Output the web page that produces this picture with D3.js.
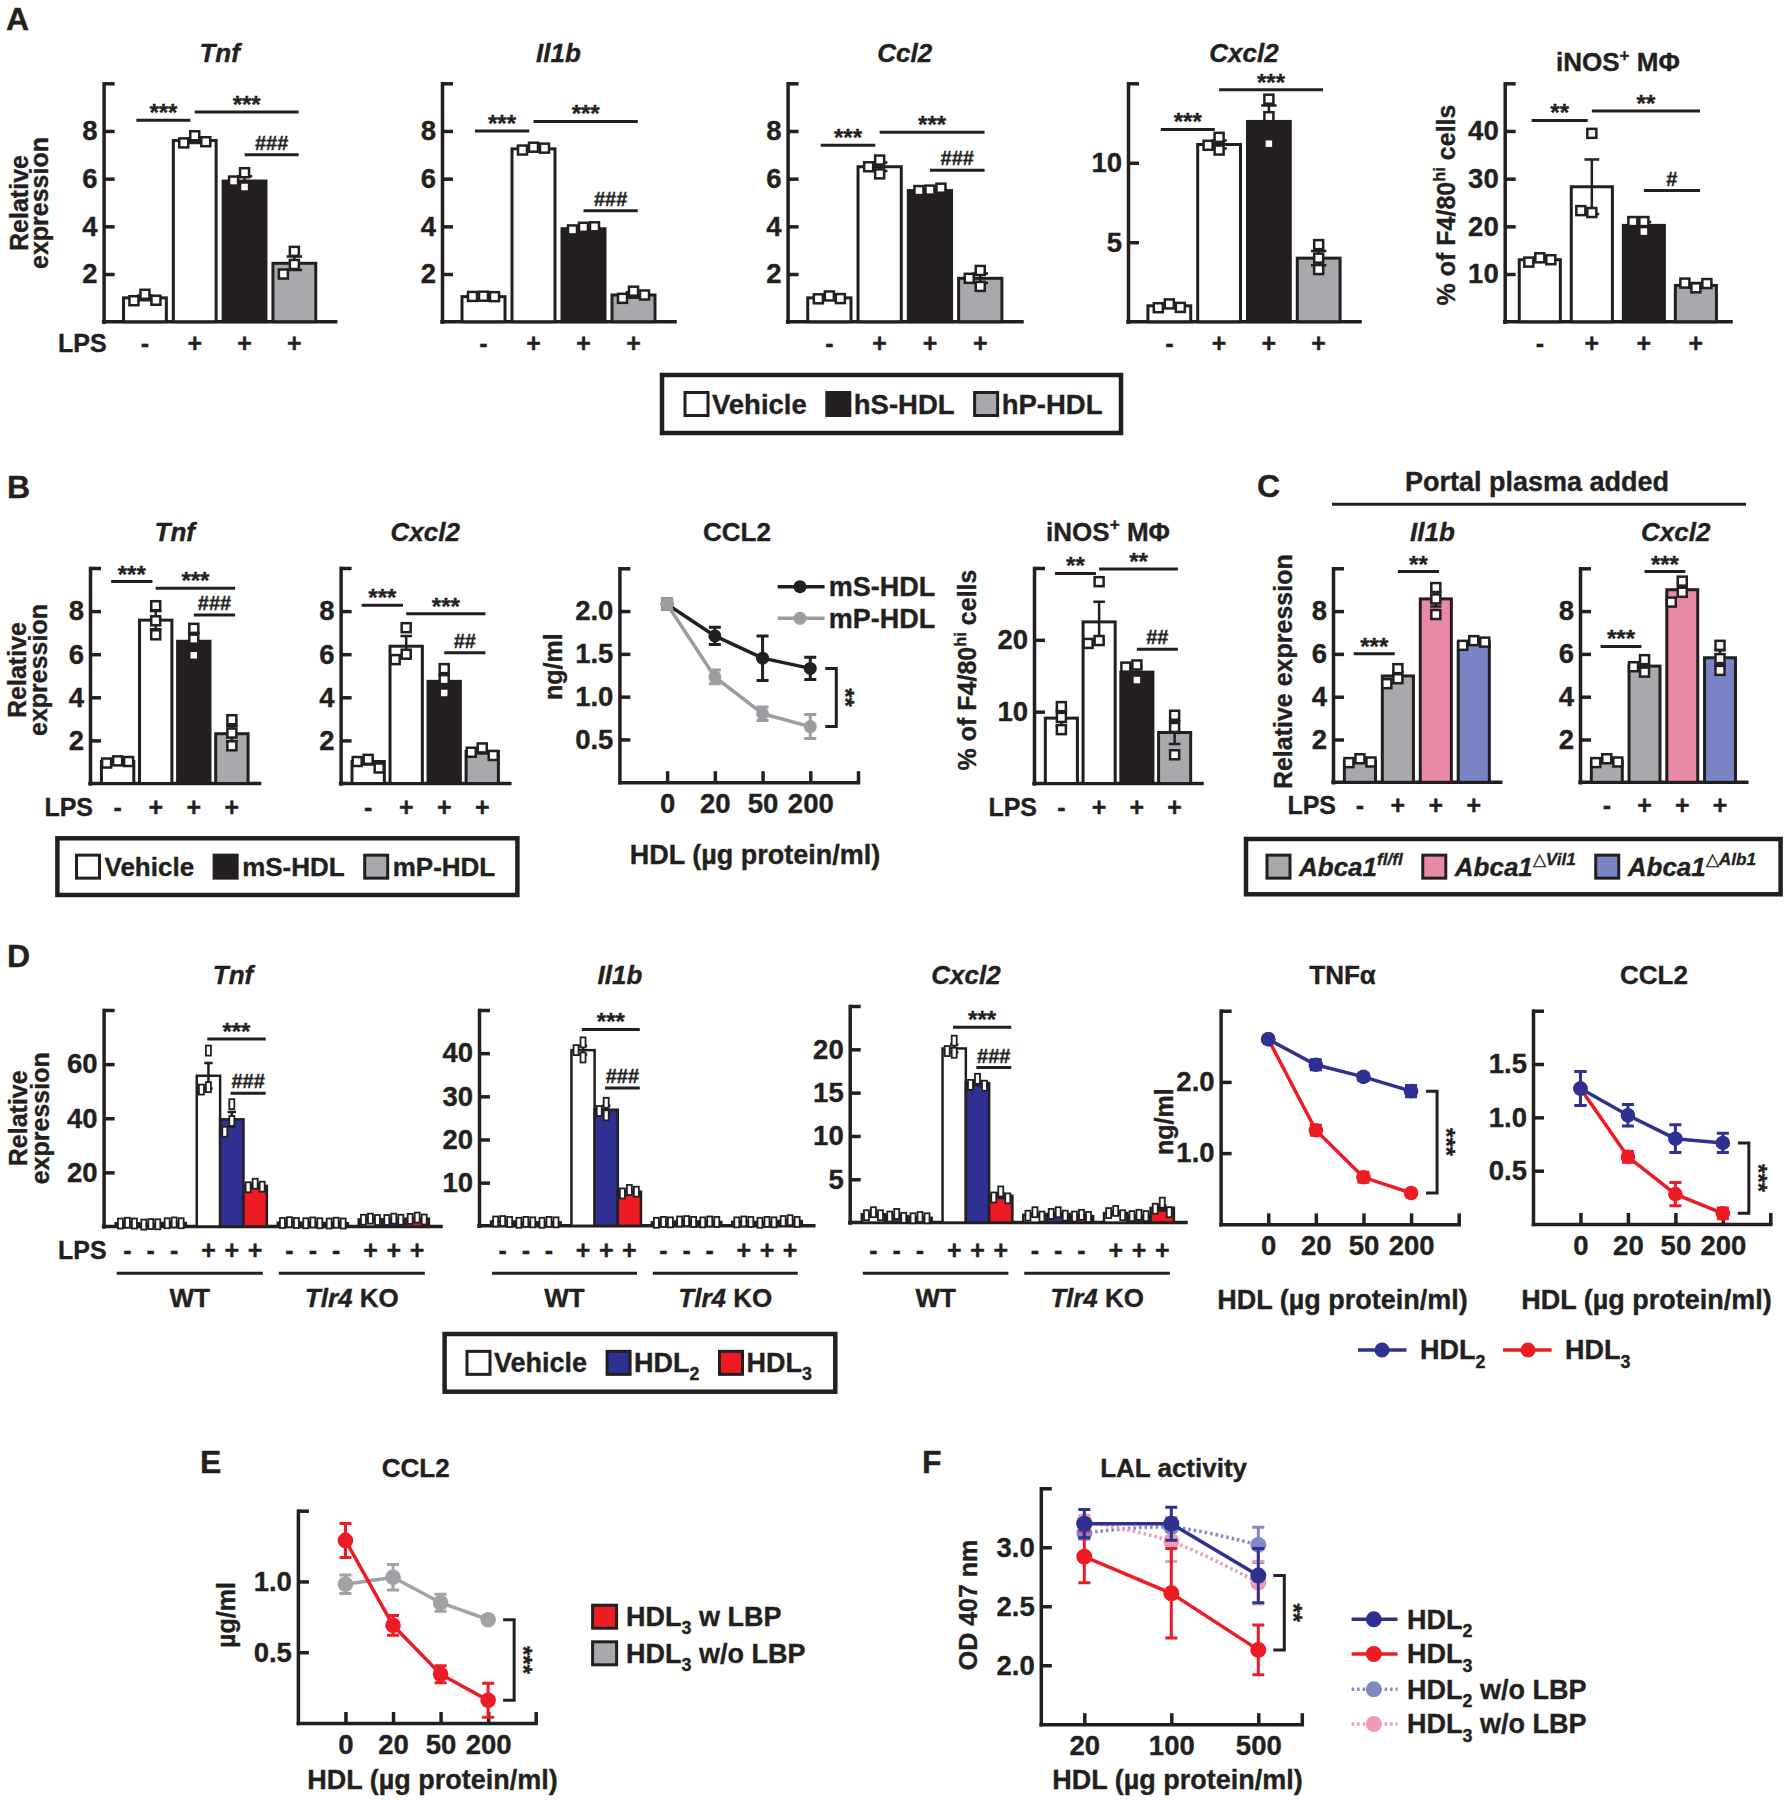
<!DOCTYPE html>
<html lang="en">
<head>
<meta charset="UTF-8">
<title>HDL panels</title>
<style>
  body { margin: 0; background: #fff; }
  text { font-family: "Liberation Sans", Arial, sans-serif; font-weight: bold; fill: #231f20; stroke: #231f20; stroke-width: 0.35px; }
</style>
</head>
<body>
<svg id="svg" width="1787" height="1800"></svg>
<script src="https://d3js.org/d3.v7.min.js"></script>
<script>
// ---------- data ----------
const lpsRow = ['-', '+', '+', '+']
const lpsRowD = ['-', '-', '-', '+', '+', '+', '-', '-', '-', '+', '+', '+']
const doses = ['0', '20', '50', '200']
const dosesF = ['20', '100', '500']

// A
const aTnfMean = [1.0, 7.6, 5.9, 2.45]
const aTnfErr = [0.1, 0.1, 0.2, 0.28]
const aTnfPts = [[1.15, 0.88, 0.9], [7.8, 7.5, 7.55], [6.25, 5.9, 5.65], [2.95, 2.4, 2.0]]
const aTnfSig = [[0, 1, 8.45, '***'], [1, 3, 8.8, '***'], [2, 3, 7.0, '###']]

const aIl1bMean = [1.05, 7.25, 3.9, 1.12]
const aIl1bErr = [0.03, 0.06, 0.06, 0.12]
const aIl1bPts = [[1.07, 1.06, 1.05], [7.32, 7.2, 7.28], [3.96, 3.85, 3.98], [1.28, 0.98, 1.12]]
const aIl1bSig = [[0, 1, 8.0, '***'], [1, 3, 8.4, '***'], [2, 3, 4.65, '###']]

const aCcl2Mean = [1.0, 6.5, 5.5, 1.82]
const aCcl2Err = [0.04, 0.18, 0.05, 0.2]
const aCcl2Pts = [[1.08, 0.96, 0.97], [6.78, 6.5, 6.2], [5.52, 5.5, 5.6], [2.15, 1.82, 1.48]]
const aCcl2Sig = [[0, 1, 7.4, '***'], [1, 3, 7.95, '***'], [2, 3, 6.35, '###']]

const aCxcl2Mean = [1.0, 11.15, 12.6, 4.0]
const aCxcl2Err = [0.08, 0.25, 1.0, 0.45]
const aCxcl2Pts = [[1.12, 0.88, 0.9], [11.6, 11.1, 10.8], [14.0, 12.9, 11.2], [4.85, 4.0, 3.28]]
const aCxcl2Sig = [[0, 1, 12.1, '***'], [1, 3, 14.6, '***']]

const aInosMean = [13.0, 28.3, 20.2, 7.6]
const aInosErr = [0.4, 5.7, 0.7, 0.5]
const aInosPts = [[13.4, 12.5, 13.0], [39.5, 22.9, 23.3], [21.0, 21.0, 18.9], [7.1, 8.1, 8.0]]
const aInosSig = [[0, 1, 42.2, '**'], [1, 3, 44.2, '**'], [2, 3, 27.5, '#']]

// B
const bTnfMean = [1.02, 7.58, 6.6, 2.31]
const bTnfErr = [0.05, 0.42, 0.38, 0.35]
const bTnfPts = [[1.05, 0.95, 1.02], [8.25, 7.55, 6.9], [7.2, 6.7, 5.95], [2.96, 2.34, 1.75]]
const bTnfSig = [[0, 1, 9.37, '***'], [1, 3, 9.06, '***'], [2, 3, 7.82, '###']]

const bCxcl2Mean = [1.02, 6.37, 4.74, 1.49]
const bCxcl2Err = [0.14, 0.48, 0.3, 0.1]
const bCxcl2Pts = [[1.12, 1.02, 0.72], [7.23, 6.0, 5.75], [5.33, 4.82, 4.2], [1.65, 1.45, 1.3]]
const bCxcl2Sig = [[0, 1, 8.27, '***'], [1, 3, 7.88, '***'], [2, 3, 6.07, '##']]

const bCcl2S = [2.08, 1.71, 1.45, 1.33]
const bCcl2SErr = [0.06, 0.1, 0.26, 0.13]
const bCcl2P = [2.08, 1.23, 0.8, 0.65]
const bCcl2PErr = [0.06, 0.08, 0.08, 0.14]

const bInosMean = [9.1, 22.5, 15.5, 7.1]
const bInosErr = [1.1, 2.8, 0.7, 1.6]
const bInosPts = [[10.7, 9.2, 7.5], [28.1, 19.9, 19.5], [16.5, 16.2, 14.4], [9.5, 7.8, 4.0]]
const bInosSig = [[0, 1, 29.25, '**'], [1, 3, 29.85, '**'], [2, 3, 18.7, '##']]

// C
const cIl1bMean = [0.99, 4.97, 8.57, 6.55]
const cIl1bErr = [0.08, 0.2, 0.35, 0.1]
const cIl1bPts = [[1.1, 0.92, 0.95], [5.31, 4.84, 4.61], [9.1, 8.57, 7.84], [6.62, 6.4, 6.55]]
const cIl1bSig = [[0, 1, 6.01, '***'], [1, 2, 9.85, '**']]

const cCxcl2Mean = [0.99, 5.43, 9.0, 5.82]
const cCxcl2Err = [0.08, 0.2, 0.3, 0.35]
const cCxcl2Pts = [[1.1, 0.92, 0.95], [5.73, 5.4, 5.15], [9.4, 8.88, 8.42], [6.4, 5.78, 5.23]]
const cCxcl2Sig = [[0, 1, 6.35, '***'], [1, 2, 9.85, '***']]

// D
const dTnfMean = [1.2, 0.8, 1.3, 55.7, 39.6, 15.0, 1.4, 1.3, 1.2, 2.6, 2.6, 2.9]
const dTnfErr = [0.15, 0.1, 0.15, 4.7, 2.7, 0.7, 0.15, 0.15, 0.15, 0.2, 0.2, 0.25]
const dTnfPts = [[1.4, 1.1, 1.1], [0.9, 0.7, 0.8], [1.5, 1.2, 1.2], [65, 51.5, 50.6], [45.2, 39, 35],
  [15.8, 14.5, 14.7], [1.6, 1.3, 1.3], [1.5, 1.2, 1.2], [1.4, 1.1, 1.1], [2.9, 2.5, 2.4], [2.9, 2.4, 2.5], [3.3, 2.8, 2.6]]
const dTnfSig = [[3, 5, 69.3, '***'], [4, 5, 49.25, '###']]

const dIl1bMean = [1.0, 0.8, 0.8, 40.7, 26.9, 7.9, 0.8, 1.0, 0.9, 0.9, 0.8, 1.1]
const dIl1bErr = [0.05, 0.05, 0.05, 1.0, 0.9, 0.25, 0.05, 0.05, 0.05, 0.05, 0.05, 0.1]
const dIl1bPts = [[1.1, 1.0, 0.9], [0.9, 0.7, 0.8], [0.9, 0.7, 0.8], [42.5, 40.7, 39.0], [28.5, 26.6, 25.6],
  [8.3, 7.5, 7.9], [0.9, 0.7, 0.8], [1.1, 1.0, 0.9], [1.0, 0.8, 0.9], [1.0, 0.8, 0.9], [0.9, 0.7, 0.8], [1.3, 1.1, 0.9]]
const dIl1bSig = [[3, 5, 45.5, '***'], [4, 5, 31.9, '###']]

const dCxcl2Mean = [0.96, 0.75, 0.55, 20.1, 16.1, 3.1, 0.9, 1.0, 0.75, 1.1, 0.8, 1.7]
const dCxcl2Err = [0.1, 0.1, 0.05, 0.45, 0.25, 0.25, 0.15, 0.1, 0.08, 0.15, 0.05, 0.3]
const dCxcl2Pts = [[1.2, 0.85, 0.85], [1.0, 0.7, 0.55], [0.65, 0.5, 0.5], [21.0, 19.8, 19.6], [16.6, 15.9, 15.8],
  [3.6, 2.9, 2.8], [1.2, 0.8, 0.7], [1.2, 1.0, 0.8], [0.9, 0.7, 0.65], [1.35, 1.1, 0.85], [0.9, 0.75, 0.75], [2.3, 1.6, 1.2]]
const dCxcl2Sig = [[3, 5, 22.55, '***'], [4, 5, 17.9, '###']]

const dTnfa2 = [2.6, 2.24, 2.07, 1.87]
const dTnfa2Err = [0.03, 0.07, 0.05, 0.08]
const dTnfa3 = [2.6, 1.32, 0.66, 0.44]
const dTnfa3Err = [0.03, 0.07, 0.07, 0.03]
const dCcl2_2 = [1.27, 1.02, 0.8, 0.76]
const dCcl2_2Err = [0.16, 0.1, 0.13, 0.09]
const dCcl2_3 = [1.27, 0.63, 0.28, 0.1]
const dCcl2_3Err = [0.16, 0.05, 0.11, 0.05]

// E
const eWith = [1.29, 0.69, 0.345, 0.16]
const eWithErr = [0.12, 0.07, 0.06, 0.12]
const eWithout = [0.98, 1.03, 0.85, 0.73]
const eWithoutErr = [0.065, 0.09, 0.06, 0.02]

// F
const fHdl2 = [3.2, 3.2, 2.76]
const fHdl2Err = [0.12, 0.14, 0.23]
const fHdl3 = [2.92, 2.61, 2.13]
const fHdl3Err = [0.22, 0.38, 0.21]
const fHdl2o = [3.12, 3.17, 3.02]
const fHdl2oErr = [0.05, 0.08, 0.15]
const fHdl3o = [3.22, 3.05, 2.7]
const fHdl3oErr = [0.05, 0.17, 0.18]

// ---------- styles ----------
const ink = '#231f20', gray = '#a7a9ac', blue = '#2e3192', red = '#ed1c24'
const pink = '#e889a6', violet = '#7a84c4', lblue = '#8089c6', lpink = '#ee9bb8'
const fillsA = ['#fff', '#fff', ink, gray]
const fillsC = [gray, gray, pink, violet]
const fillsD = d3.range(12).map(i => ['#fff', blue, red][i % 3])
const tickSize = 27.5

const svg = d3.select('#svg')

// text with optional italic / sub / sup parts
function rich(g, x, y, parts, o = {}) {
  const size = o.size || 26
  const t = g.append('text').attr('x', x).attr('y', y + 0.35 * size)
    .attr('text-anchor', o.anchor || 'middle').style('font-size', size + 'px')
  if (o.rotate) t.attr('transform', `rotate(-90,${x},${y})`)
  if (o.italic) t.style('font-style', 'italic')
  let shift = 0
  ;[].concat(parts).forEach(p => {
    const [s, f = ''] = typeof p === 'string' ? [p] : p
    const fl = f.split(' ')
    const sp = t.append('tspan').text(s)
    let target = 0
    if (fl.includes('sup')) target = -0.4 * size
    if (fl.includes('sub')) target = 0.3 * size
    if (target !== shift) { sp.attr('dy', target - shift); shift = target }
    if (target !== 0) sp.style('font-size', (size * 0.66) + 'px')
    if (fl.includes('it')) sp.style('font-style', 'italic')
    if (fl.includes('reg')) sp.style('font-weight', 'normal').style('font-style', 'normal')
  })
  return t
}

function styleAxis(a, size) {
  a.attr('font-size', null).attr('font-family', null)
  a.select('.domain').attr('stroke', ink).attr('stroke-width', 3.5).attr('stroke-linecap', 'square')
  a.selectAll('.tick line').attr('stroke', ink).attr('stroke-width', 3.5)
  a.selectAll('.tick text').style('font-size', size + 'px').attr('fill', ink)
}

function yAxis(g, y, x0, ticks, fmt) {
  const top = y.domain()[1]
  const ax = d3.axisLeft(y).tickValues(ticks.concat([top]))
    .tickFormat(d => d === top ? '' : fmt(d)).tickSizeInner(-11).tickSizeOuter(0).tickPadding(6)
  styleAxis(g.append('g').attr('transform', `translate(${x0},0)`).call(ax), tickSize)
}

function bandPos(n, x0, x1, pi, po) {
  const b = d3.scaleBand().domain(d3.range(n)).range([x0, x1]).paddingInner(pi).paddingOuter(po)
  return i => [b(i), b.bandwidth()]
}
function groupPos(groups, per, x0, x1, pi, po) {
  const gb = d3.scaleBand().domain(d3.range(groups)).range([x0, x1]).paddingInner(pi).paddingOuter(po)
  const sb = d3.scaleBand().domain(d3.range(per)).range([0, gb.bandwidth()])
  const f = i => [gb(Math.floor(i / per)) + sb(i % per), sb.bandwidth()]
  f.group = k => [gb(k), gb(k) + gb.bandwidth()]
  return f
}

function swarm(vals, y, cx, w, h) {
  const placed = []
  return vals.map(v => {
    const py = y(v)
    for (const c of [0, -1, 1, -2, 2]) {
      const px = cx + c * (w + 1)
      if (!placed.some(p => Math.abs(p[0] - px) < w && Math.abs(p[1] - py) < h)) {
        placed.push([px, py]); return [px, py]
      }
    }
    placed.push([cx, py]); return [cx, py]
  })
}

function sigLabel(g, x, yLine, lab) {
  const star = lab.includes('*')
  g.append('text').attr('x', x).attr('y', star ? yLine + 1 : yLine - 5)
    .attr('text-anchor', 'middle').style('font-size', (star ? 24 : 20) + 'px').text(lab)
}

function barChart(o) {
  const g = svg.append('g')
  const y = d3.scaleLinear().domain(o.domain).range([o.bot, o.top])
  const n = o.mean.length
  const pos = o.groups ? groupPos(o.groups, n / o.groups, o.x0, o.x1, o.pi, o.po)
    : bandPos(n, o.x0, o.x1, o.pi, o.po)
  yAxis(g, y, o.x0, o.ticks, d3.format('d'))
  g.append('line').attr('x1', o.x0).attr('x2', o.x1).attr('y1', o.bot).attr('y2', o.bot)
    .attr('stroke', ink).attr('stroke-width', 3.5).attr('stroke-linecap', 'square')

  o.mean.forEach((v, i) => {
    const [bx, bw] = pos(i)
    g.append('rect').attr('x', bx).attr('y', y(v)).attr('width', bw).attr('height', y(0) - y(v))
      .attr('fill', o.fills[i]).attr('stroke', ink).attr('stroke-width', o.groups ? 2.5 : 3)
  })
  o.mean.forEach((v, i) => {
    const [bx, bw] = pos(i), cx = bx + bw / 2, e = o.err[i], cw = bw * 0.18
    g.append('path')
      .attr('d', `M${cx},${y(v - e)}V${y(v + e)}M${cx - cw},${y(v + e)}H${cx + cw}M${cx - cw},${y(v - e)}H${cx + cw}`)
      .attr('stroke', ink).attr('stroke-width', 2.5).attr('fill', 'none')
  })
  const pw = o.groups ? 5 : 9, ph = o.groups ? 10 : 9
  o.pts.forEach((ps, i) => {
    const [bx, bw] = pos(i)
    swarm(ps, y, bx + bw / 2, pw + 1, ph + 1).forEach(([px, py]) => {
      g.append('rect').attr('x', px - pw / 2).attr('y', py - ph / 2).attr('width', pw).attr('height', ph)
        .attr('fill', '#fff').attr('stroke', ink).attr('stroke-width', o.groups ? 1.8 : 2.5)
    })
  })
  o.sig.forEach(([a, b, v, lab]) => {
    const [ax, aw] = pos(a), [bx, bw] = pos(b)
    const ca = ax + aw / 2, cb = bx + bw / 2
    const chained = o.sig.some(s => s[0] === b)
    let x1 = chained ? ca - 0.2 * aw : ca, x2 = chained ? cb - 0.1 * bw : cb + 0.1 * bw
    if (o.groups) { x1 = ca - 0.05 * aw; x2 = cb + 0.45 * bw }
    g.append('line').attr('x1', x1).attr('x2', x2).attr('y1', y(v)).attr('y2', y(v))
      .attr('stroke', ink).attr('stroke-width', 3)
    sigLabel(g, (x1 + x2) / 2, y(v), lab)
  })
  if (o.title) rich(g, o.titleX ?? (o.x0 + o.x1) / 2, o.titleY, o.title, { size: 26, italic: o.italic })
  o.lps.forEach((s, i) => {
    const [bx, bw] = pos(i)
    g.append('text').attr('x', bx + bw / 2).attr('y', o.lpsY + 9).attr('text-anchor', 'middle')
      .style('font-size', '25px').text(s)
  })
  if (o.lpsLabel) g.append('text').attr('x', o.x0 + 3).attr('y', o.lpsY + 9).attr('text-anchor', 'end')
    .style('font-size', '25px').text('LPS')
  if (o.groups) {
    [[0, 1, ['WT']], [2, 3, [['Tlr4', 'it'], ' KO']]].forEach(([k1, k2, lab]) => {
      const gx1 = pos.group(k1)[0] + 1, gx2 = pos.group(k2)[1] - 4
      g.append('line').attr('x1', gx1).attr('x2', gx2).attr('y1', o.grpY).attr('y2', o.grpY)
        .attr('stroke', ink).attr('stroke-width', 3)
      rich(g, (gx1 + gx2) / 2, o.grpY + 25, lab, { size: 26 })
    })
  }
}

function lineChart(o) {
  const g = svg.append('g')
  const y = d3.scaleLinear().domain(o.domain).range([o.bot, o.top])
  const x = d3.scaleLinear().domain(o.xDomain).range([o.x0, o.x1])
  yAxis(g, y, o.x0, o.ticks, d3.format('.1f'))
  const ax = d3.axisBottom(x).tickValues(d3.range(o.labels.length).concat([o.xDomain[1]]))
    .tickFormat(i => o.labels[i] ?? '').tickSizeInner(-11).tickSizeOuter(0).tickPadding(11)
  styleAxis(g.append('g').attr('transform', `translate(0,${o.bot})`).call(ax), tickSize)

  o.series.forEach(s => {
    const line = d3.line().x((d, i) => x(i)).y(d => y(d)).curve(s.dash ? d3.curveCatmullRom : d3.curveLinear)
    g.append('path').attr('d', line(s.v)).attr('fill', 'none').attr('stroke', s.color)
      .attr('stroke-width', 3.5).attr('stroke-dasharray', s.dash ? '2.5,3' : null)
    s.v.forEach((v, i) => {
      const cx = x(i), e = s.e[i]
      g.append('path').attr('d', `M${cx},${y(v - e)}V${y(v + e)}M${cx - 6},${y(v + e)}H${cx + 6}M${cx - 6},${y(v - e)}H${cx + 6}`)
        .attr('stroke', s.color).attr('stroke-width', 3).attr('fill', 'none')
      g.append('circle').attr('cx', cx).attr('cy', y(v)).attr('r', o.r).attr('fill', s.color)
    })
  })
  // bracket between the last points of two series
  const [p, q] = o.pair.map(k => o.series[k].v[o.series[k].v.length - 1])
  const bx = x(o.labels.length - 1) + 26
  g.append('path').attr('d', `M${bx - 11},${y(p)}H${bx}V${y(q)}H${bx - 11}`)
    .attr('fill', 'none').attr('stroke', ink).attr('stroke-width', 3)
  g.append('text').attr('transform', `translate(${bx + 1},${(y(p) + y(q)) / 2}) rotate(90)`)
    .attr('text-anchor', 'middle').style('font-size', '24px').text(o.bracket)
  rich(g, o.titleX, o.titleY, o.title, { size: 26 })
  rich(g, o.xlabX, o.xlabY, 'HDL (µg protein/ml)', { size: 27 })
}

function boxLegend(x0, y0, x1, y1, items, fills, start, tgap, size) {
  const g = svg.append('g')
  g.append('rect').attr('x', x0).attr('y', y0).attr('width', x1 - x0).attr('height', y1 - y0)
    .attr('fill', 'none').attr('stroke', ink).attr('stroke-width', 4.5)
  const cy = (y0 + y1) / 2
  let x = start
  items.forEach((it, i) => {
    g.append('rect').attr('x', x).attr('y', cy - 11.5).attr('width', 23).attr('height', 23)
      .attr('fill', fills[i]).attr('stroke', ink).attr('stroke-width', 3)
    const t = rich(g, x + 23 + tgap, cy, it, { size, anchor: 'start' })
    x += 23 + tgap + t.node().getComputedTextLength() + 20
  })
}

function lineKey(x1, x2, cx, tx, cy, color, dash, parts, r) {
  svg.append('line').attr('x1', x1).attr('x2', x2).attr('y1', cy).attr('y2', cy)
    .attr('stroke', color).attr('stroke-width', 3.5).attr('stroke-dasharray', dash ? '2.5,3' : null)
  svg.append('circle').attr('cx', cx).attr('cy', cy).attr('r', r).attr('fill', color)
  rich(svg, tx, cy, parts, { size: 27, anchor: 'start' })
}

function letter(x, y, s) {
  svg.append('text').attr('x', x).attr('y', y).style('font-size', '32px').text(s)
}

// ---------- panel A ----------
letter(6, 30, 'A')
const rowA = { top: 83.3, bot: 321.7, domain: [0, 10], ticks: [2, 4, 6, 8], fills: fillsA, lps: lpsRow,
  lpsY: 343, titleY: 53, italic: true, pi: 0.14, po: 0.4 }
barChart({ ...rowA, x0: 103.6, x1: 335.7, mean: aTnfMean, err: aTnfErr, pts: aTnfPts, sig: aTnfSig, title: 'Tnf', lpsLabel: true })
barChart({ ...rowA, x0: 442, x1: 675, mean: aIl1bMean, err: aIl1bErr, pts: aIl1bPts, sig: aIl1bSig, title: 'Il1b' })
barChart({ ...rowA, x0: 787.6, x1: 1022, mean: aCcl2Mean, err: aCcl2Err, pts: aCcl2Pts, sig: aCcl2Sig, title: 'Ccl2' })
barChart({ ...rowA, x0: 1128, x1: 1360, domain: [0, 15], ticks: [5, 10], mean: aCxcl2Mean, err: aCxcl2Err,
  pts: aCxcl2Pts, sig: aCxcl2Sig, title: 'Cxcl2' })
barChart({ ...rowA, x0: 1504.7, x1: 1731, domain: [0, 50], ticks: [10, 20, 30, 40], mean: aInosMean, err: aInosErr,
  pts: aInosPts, sig: aInosSig, title: ['iNOS', ['+', 'sup'], ' MΦ'], titleY: 62, italic: false, pi: 0.21, po: 0.28 })
rich(svg, 19, 203, 'Relative', { size: 25, rotate: true })
rich(svg, 39, 203, 'expression', { size: 25, rotate: true })
rich(svg, 1446.5, 205, ['% of F4/80', ['hi', 'sup'], ' cells'], { size: 25, rotate: true })
boxLegend(662, 375, 1121, 433, ['Vehicle', 'hS-HDL', 'hP-HDL'], ['#fff', ink, gray], 685, 4, 27.5)

// ---------- panel B ----------
letter(7, 498, 'B')
const rowB = { top: 568, bot: 783.5, domain: [0, 10], ticks: [2, 4, 6, 8], fills: fillsA, lps: lpsRow,
  lpsY: 806.7, titleY: 531.7, italic: true, pi: 0.15, po: 0.3 }
barChart({ ...rowB, x0: 90, x1: 259.5, mean: bTnfMean, err: bTnfErr, pts: bTnfPts, sig: bTnfSig, title: 'Tnf', lpsLabel: true })
barChart({ ...rowB, x0: 340.6, x1: 509.8, mean: bCxcl2Mean, err: bCxcl2Err, pts: bCxcl2Pts, sig: bCxcl2Sig, title: 'Cxcl2' })
barChart({ ...rowB, x0: 1034, x1: 1202, domain: [0, 30], ticks: [10, 20], mean: bInosMean, err: bInosErr,
  pts: bInosPts, sig: bInosSig, title: ['iNOS', ['+', 'sup'], ' MΦ'], titleX: 1108, italic: false, lpsLabel: true })
lineChart({ x0: 619.4, x1: 858, top: 568.3, bot: 782.2, domain: [0, 2.5], ticks: [0.5, 1, 1.5, 2], xDomain: [-1, 4],
  labels: doses, r: 6.5, series: [{ v: bCcl2S, e: bCcl2SErr, color: ink }, { v: bCcl2P, e: bCcl2PErr, color: '#9b9da0' }],
  pair: [0, 1], bracket: '**', title: 'CCL2', titleX: 737, titleY: 531.7, xlabX: 755, xlabY: 855 })
rich(svg, 17, 670, 'Relative', { size: 25, rotate: true })
rich(svg, 38, 670, 'expression', { size: 25, rotate: true })
rich(svg, 553, 666.7, 'ng/ml', { size: 25, rotate: true })
rich(svg, 967.4, 670, ['% of F4/80', ['hi', 'sup'], ' cells'], { size: 25, rotate: true })
lineKey(777.7, 824.6, 800, 828.7, 586.7, ink, false, 'mS-HDL', 6.5)
lineKey(777.7, 824.6, 800, 828.7, 618.3, '#9b9da0', false, 'mP-HDL', 6.5)
boxLegend(57.4, 838.3, 517.4, 895, ['Vehicle', 'mS-HDL', 'mP-HDL'], ['#fff', ink, gray], 76.5, 5, 26)

// ---------- panel C ----------
svg.append('text').attr('x', 1257).attr('y', 497).style('font-size', '32px').text('C')
rich(svg, 1537, 481.7, 'Portal plasma added', { size: 27 })
svg.append('line').attr('x1', 1332).attr('x2', 1746).attr('y1', 504.3).attr('y2', 504.3).attr('stroke', ink).attr('stroke-width', 3)
const rowC = { top: 568.3, bot: 782.3, domain: [0, 10], ticks: [2, 4, 6, 8], fills: fillsC, lps: lpsRow,
  lpsY: 805, titleY: 531.7, italic: true, pi: 0.18, po: 0.3 }
barChart({ ...rowC, x0: 1333, x1: 1500.7, mean: cIl1bMean, err: cIl1bErr, pts: cIl1bPts, sig: cIl1bSig, title: 'Il1b', titleX: 1432.5, lpsLabel: true })
barChart({ ...rowC, x0: 1580, x1: 1746.8, mean: cCxcl2Mean, err: cCxcl2Err, pts: cCxcl2Pts, sig: cCxcl2Sig, title: 'Cxcl2', titleX: 1675.8 })
rich(svg, 1283, 671.7, 'Relative expression', { size: 25, rotate: true })
boxLegend(1246, 839, 1780.6, 894.3, [
  [['Abca1', 'it'], ['fl/fl', 'sup it']],
  [['Abca1', 'it'], ['△', 'sup reg'], ['Vil1', 'sup it']],
  [['Abca1', 'it'], ['△', 'sup reg'], ['Alb1', 'sup it']]
], [gray, pink, violet], 1267, 9, 26)

// ---------- panel D ----------
letter(7, 967, 'D')
const rowD = { domain: [0, 80], fills: fillsD, lps: lpsRowD, lpsY: 1250, titleY: 975, italic: true,
  groups: 4, pi: 0.135, po: 0.15, grpY: 1273.3 }
barChart({ ...rowD, x0: 103.6, x1: 441, top: 1010, bot: 1226.5, ticks: [20, 40, 60], mean: dTnfMean, err: dTnfErr,
  pts: dTnfPts, sig: dTnfSig, title: 'Tnf', titleX: 233, lpsLabel: true })
barChart({ ...rowD, x0: 479, x1: 813.8, top: 1010, bot: 1225.8, domain: [0, 50], ticks: [10, 20, 30, 40], mean: dIl1bMean,
  err: dIl1bErr, pts: dIl1bPts, sig: dIl1bSig, title: 'Il1b', titleX: 620 })
barChart({ ...rowD, x0: 849.7, x1: 1186, top: 1006, bot: 1222.6, domain: [0, 25], ticks: [5, 10, 15, 20], mean: dCxcl2Mean,
  err: dCxcl2Err, pts: dCxcl2Pts, sig: dCxcl2Sig, title: 'Cxcl2', titleX: 966 })
rich(svg, 18, 1118.3, 'Relative', { size: 25, rotate: true })
rich(svg, 40, 1118.3, 'expression', { size: 25, rotate: true })
boxLegend(444.6, 1334, 835.3, 1391.7, ['Vehicle', ['HDL', ['2', 'sub']], ['HDL', ['3', 'sub']]], ['#fff', blue, red], 467, 4, 27)
lineChart({ x0: 1220.6, x1: 1458.7, top: 1010.7, bot: 1224.3, domain: [0, 3], ticks: [1, 2], xDomain: [-1, 4],
  labels: doses, r: 7.3, series: [{ v: dTnfa3, e: dTnfa3Err, color: red }, { v: dTnfa2, e: dTnfa2Err, color: blue }],
  pair: [1, 0], bracket: '***', title: 'TNFα', titleX: 1342.6, titleY: 975, xlabX: 1342.6, xlabY: 1300 })
lineChart({ x0: 1533, x1: 1770.3, top: 1010.7, bot: 1224, domain: [0, 2], ticks: [0.5, 1, 1.5], xDomain: [-1, 4],
  labels: doses, r: 7.3, series: [{ v: dCcl2_3, e: dCcl2_3Err, color: red }, { v: dCcl2_2, e: dCcl2_2Err, color: blue }],
  pair: [1, 0], bracket: '***', title: 'CCL2', titleX: 1654, titleY: 975, xlabX: 1646.5, xlabY: 1300 })
rich(svg, 1164, 1121.7, 'ng/ml', { size: 25, rotate: true })
lineKey(1358, 1406.5, 1382, 1420, 1350, blue, false, ['HDL', ['2', 'sub']], 7.5)
lineKey(1503, 1551.6, 1528, 1565, 1350, red, false, ['HDL', ['3', 'sub']], 7.5)

// ---------- panel E ----------
letter(200, 1473, 'E')
lineChart({ x0: 297.9, x1: 535.7, top: 1510.7, bot: 1723, domain: [0, 1.5], ticks: [0.5, 1], xDomain: [-1, 4],
  labels: doses, r: 7.8, series: [{ v: eWithout, e: eWithoutErr, color: '#a0a2a5' }, { v: eWith, e: eWithErr, color: red }],
  pair: [0, 1], bracket: '***', title: 'CCL2', titleX: 415.7, titleY: 1468, xlabX: 432.6, xlabY: 1780 })
rich(svg, 226.3, 1615, 'µg/ml', { size: 25, rotate: true })
;[[red, ['HDL', ['3', 'sub'], ' w LBP'], 1616.7], [gray, ['HDL', ['3', 'sub'], ' w/o LBP'], 1653.3]].forEach(([c, parts, cy]) => {
  svg.append('rect').attr('x', 592.6).attr('y', cy - 11.5).attr('width', 24).attr('height', 23)
    .attr('fill', c).attr('stroke', ink).attr('stroke-width', 3)
  rich(svg, 626, cy, parts, { size: 27, anchor: 'start' })
})

// ---------- panel F ----------
letter(922, 1473, 'F')
lineChart({ x0: 1040.8, x1: 1301.8, top: 1488.3, bot: 1724.2, domain: [1.5, 3.5], ticks: [2, 2.5, 3], xDomain: [-0.5, 2.5],
  labels: dosesF, r: 8, series: [
    { v: fHdl2o, e: fHdl2oErr, color: lblue, dash: true },
    { v: fHdl3o, e: fHdl3oErr, color: lpink, dash: true },
    { v: fHdl3, e: fHdl3Err, color: red },
    { v: fHdl2, e: fHdl2Err, color: blue }],
  pair: [3, 2], bracket: '**', title: 'LAL activity', titleX: 1173.6, titleY: 1468, xlabX: 1177.5, xlabY: 1780 })
rich(svg, 968, 1605, 'OD 407 nm', { size: 25, rotate: true })
lineKey(1351.6, 1397.5, 1373.8, 1407, 1619.3, blue, false, ['HDL', ['2', 'sub']], 8)
lineKey(1351.6, 1397.5, 1373.8, 1407, 1654, red, false, ['HDL', ['3', 'sub']], 8)
lineKey(1351.6, 1397.5, 1373.8, 1407, 1689.3, lblue, true, ['HDL', ['2', 'sub'], ' w/o LBP'], 8)
lineKey(1351.6, 1397.5, 1373.8, 1407, 1724, lpink, true, ['HDL', ['3', 'sub'], ' w/o LBP'], 8)
</script>
</body>
</html>
